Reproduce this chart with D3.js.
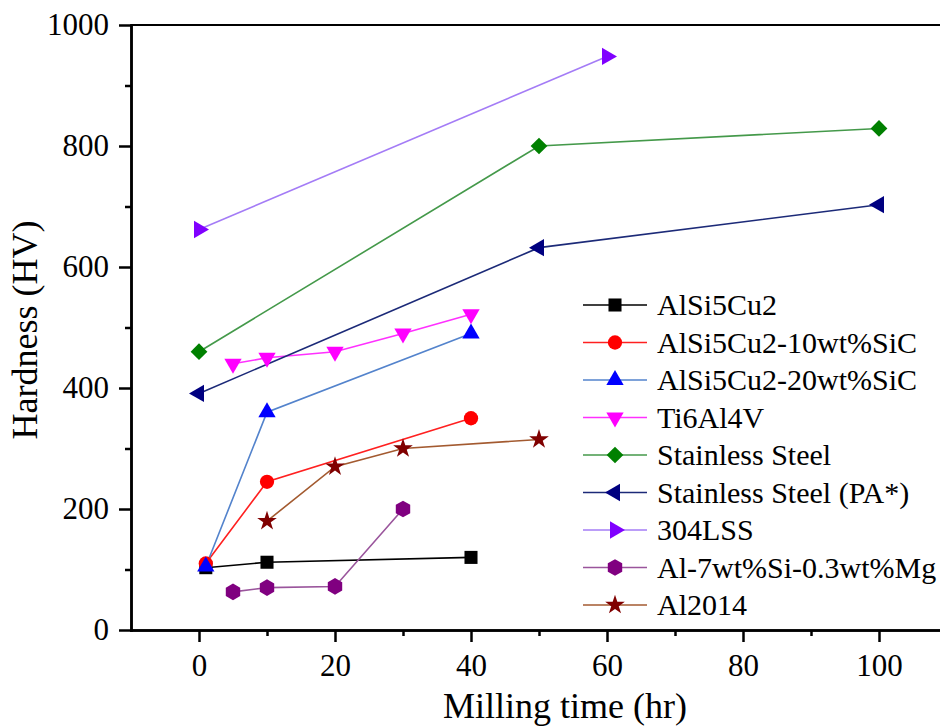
<!DOCTYPE html>
<html>
<head>
<meta charset="utf-8">
<script src="https://cdn.jsdelivr.net/npm/d3@7"></script>
</head>
<body style="margin:0">
<svg id="chart" width="940" height="726"></svg>
<script>
const FONT = '"Liberation Serif", Tinos, "Times New Roman", serif'

// series names (legend order)
const seriesNames = [
	'AlSi5Cu2',
	'AlSi5Cu2-10wt%SiC',
	'AlSi5Cu2-20wt%SiC',
	'Ti6Al4V',
	'Stainless Steel',
	'Stainless Steel (PA*)',
	'304LSS',
	'Al-7wt%Si-0.3wt%Mg',
	'Al2014'
]

// milling time (hr) and hardness (HV) per series
const xAlSi5Cu2 = [1, 10, 40]
const yAlSi5Cu2 = [103, 112, 120]
const xSiC10 = [1, 10, 40]
const ySiC10 = [110, 245, 350]
const xSiC20 = [1, 10, 40]
const ySiC20 = [105, 360, 490]
const xTi6Al4V = [5, 10, 20, 30, 40]
const yTi6Al4V = [440, 450, 460, 490, 522]
const xSteel = [0, 50, 100]
const ySteel = [460, 800, 829]
const xSteelPA = [0, 50, 100]
const ySteelPA = [391, 632, 703]
const x304LSS = [0, 60]
const y304LSS = [662, 948]
const xAlSiMg = [5, 10, 20, 30]
const yAlSiMg = [63, 70, 72, 200]
const xAl2014 = [10, 20, 30, 50]
const yAl2014 = [180, 270, 300, 315]

const xTicks = [0, 20, 40, 60, 80, 100]
const xMinorTicks = [10, 30, 50, 70, 90]
const yTicks = [0, 200, 400, 600, 800, 1000]
const yMinorTicks = [100, 300, 500, 700, 900]

const markerColours = ['#000000', '#ff0000', '#0000ff', '#ff00ff', '#008000', '#000080', '#8000ff', '#800080', '#800000']
const lineColours = ['#000000', '#ff2020', '#5383cc', '#ff30ff', '#44994a', '#1c2a78', '#a47cf6', '#9a559c', '#a35a30']

// custom shapes not in d3
const hexagon = {
	draw(context, size) {
		const r = Math.sqrt(size / (1.5 * Math.sqrt(3)))
		for (let i = 0; i < 6; i++) {
			const a = Math.PI / 3 * i - Math.PI / 2
			const px = r * Math.cos(a), py = r * Math.sin(a)
			if (i === 0) context.moveTo(px, py); else context.lineTo(px, py)
		}
		context.closePath()
	}
}

// [symbol type, size, rotation]
const markers = [
	[d3.symbolSquare, 170, 0],
	[d3.symbolCircle, 160, 0],
	[d3.symbolTriangle, 130, 0],
	[d3.symbolTriangle, 130, 180],
	[d3.symbolSquare, 140, 45],
	[d3.symbolTriangle, 130, -90],
	[d3.symbolTriangle, 130, 90],
	[hexagon, 180, 0],
	[d3.symbolStar, 120, 0]
]

const xVals = [xAlSi5Cu2, xSiC10, xSiC20, xTi6Al4V, xSteel, xSteelPA, x304LSS, xAlSiMg, xAl2014]
const yVals = [yAlSi5Cu2, ySiC10, ySiC20, yTi6Al4V, ySteel, ySteelPA, y304LSS, yAlSiMg, yAl2014]

const series = seriesNames.map((name, i) => ({
	name,
	points: xVals[i].map((x, j) => ({ x, y: yVals[i][j] })),
	marker: markers[i],
	colour: markerColours[i],
	lineColour: lineColours[i]
}))

const svg = d3.select('#chart')

const xScale = d3.scaleLinear().domain([-10, 110]).range([131, 947])
const yScale = d3.scaleLinear().domain([0, 1000]).range([630, 25])

// top frame line
svg.append('line')
	.attr('x1', xScale(-10)).attr('x2', xScale(110))
	.attr('y1', yScale(1000)).attr('y2', yScale(1000))
	.attr('stroke', '#000').attr('stroke-width', 2.2)

// axes
const styleAxis = g => {
	g.attr('font-family', null).attr('font-size', null)
	g.selectAll('path, line').attr('stroke', '#000').attr('stroke-width', 2.5)
	g.select('.domain').attr('stroke-linecap', 'square')
	g.selectAll('text').attr('fill', '#000').style('font-family', FONT).style('font-size', '31px')
}

svg.append('g')
	.attr('transform', `translate(0, ${yScale(0)})`)
	.call(d3.axisBottom(xScale).tickValues(xMinorTicks).tickSize(6).tickSizeOuter(0).tickFormat(''))
	.call(styleAxis)

svg.append('g')
	.attr('transform', `translate(0, ${yScale(0)})`)
	.call(d3.axisBottom(xScale).tickValues(xTicks).tickSize(12).tickSizeOuter(0).tickPadding(12).tickFormat(d3.format('d')))
	.call(styleAxis)

svg.append('g')
	.attr('transform', `translate(${xScale(-10)}, 0)`)
	.call(d3.axisLeft(yScale).tickValues(yMinorTicks).tickSize(6).tickSizeOuter(0).tickFormat(''))
	.call(styleAxis)

svg.append('g')
	.attr('transform', `translate(${xScale(-10)}, 0)`)
	.call(d3.axisLeft(yScale).tickValues(yTicks).tickSize(12).tickSizeOuter(0).tickPadding(10).tickFormat(d3.format('d')))
	.call(styleAxis)

// axis titles
svg.append('text')
	.attr('x', 565)
	.attr('y', 718)
	.attr('text-anchor', 'middle')
	.style('font-family', FONT)
	.style('font-size', '36px')
	.text('Milling time (hr)')

svg.append('text')
	.attr('transform', 'translate(37, 330) rotate(-90)')
	.attr('text-anchor', 'middle')
	.style('font-family', FONT)
	.style('font-size', '36px')
	.text('Hardness (HV)')

// lines and markers
const line = d3.line().x(d => xScale(d.x)).y(d => yScale(d.y))

const symbolPath = m => d3.symbol().type(m[0]).size(m[1])()

const plotLayer = svg.append('g')

plotLayer.selectAll('.series-line')
	.data(series)
	.enter()
	.append('path')
	.attr('class', 'series-line')
	.attr('fill', 'none')
	.attr('stroke-width', 1.6)
	.attr('stroke', d => d.lineColour)
	.attr('d', d => line(d.points))

series.forEach(s => {
	plotLayer.selectAll(null)
		.data(s.points)
		.enter()
		.append('path')
		.attr('d', symbolPath(s.marker))
		.attr('fill', s.colour)
		.attr('transform', d => `translate(${xScale(d.x)}, ${yScale(d.y)}) rotate(${s.marker[2]})`)
})

// legend
const legendX = 583
const legendY = 305
const rowGap = 37.5

const legend = svg.append('g')

const rows = legend.selectAll('g')
	.data(series)
	.enter()
	.append('g')
	.attr('transform', (d, i) => `translate(${legendX}, ${legendY + i * rowGap})`)

rows.append('line')
	.attr('x1', 0).attr('x2', 64)
	.attr('y1', 0).attr('y2', 0)
	.attr('stroke', d => d.lineColour)
	.attr('stroke-width', 1.6)

rows.append('path')
	.attr('d', d => symbolPath(d.marker))
	.attr('fill', d => d.colour)
	.attr('transform', d => `translate(32, 0) rotate(${d.marker[2]})`)

rows.append('text')
	.attr('x', 74)
	.attr('y', 10)
	.style('font-family', FONT)
	.style('font-size', '30px')
	.text(d => d.name)
</script>
</body>
</html>
